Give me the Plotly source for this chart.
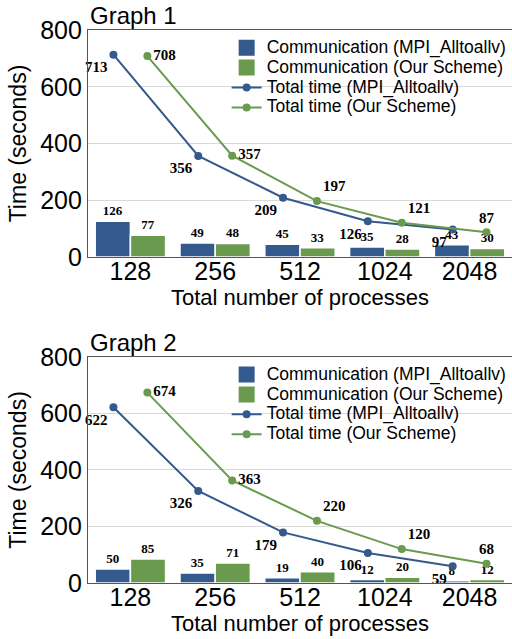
import plotly.graph_objects as go

processes = ["128", "256", "512", "1024", "2048"]

g1_comm_mpi = [126, 49, 45, 35, 43]
g1_comm_ours = [77, 48, 33, 28, 30]
g1_total_mpi = [713, 356, 209, 126, 97]
g1_total_ours = [708, 357, 197, 121, 87]

g2_comm_mpi = [50, 35, 19, 12, 8]
g2_comm_ours = [85, 71, 40, 20, 12]
g2_total_mpi = [622, 326, 179, 106, 59]
g2_total_ours = [674, 363, 220, 120, 68]

names = ["Communication (MPI_Alltoallv)", "Communication (Our Scheme)",
         "Total time (MPI_Alltoallv)", "Total time (Our Scheme)"]

BLUE = "#34598C"
GREEN = "#6A9A4E"
SANS = "Liberation Sans, Arial, Helvetica, sans-serif"
SERIF = "Liberation Serif, Times New Roman, serif"

blue_pos = ["bottom left"] * 5
green_pos = ["middle right", "middle right", "top right", "top right", "top center"]


def legname(s):
    return '<span style="font-size:17.5px">' + s + '</span>'


fig = go.Figure()


def add_graph(idx, cm, co, tm, to):
    xa = "x" if idx == 1 else "x2"
    ya = "y" if idx == 1 else "y2"
    lg = "legend" if idx == 1 else "legend2"
    # legend-only square swatches for the bar series
    for nm, col in ((names[0], BLUE), (names[1], GREEN)):
        fig.add_trace(go.Scatter(x=[None], y=[None], mode="markers", name=legname(nm),
                                 marker=dict(symbol="square", size=16, color=col),
                                 alignmentgroup="leg", xaxis=xa, yaxis=ya, legend=lg))
    fig.add_trace(go.Bar(x=processes, y=cm, name=names[0], showlegend=False,
                         marker=dict(color=BLUE, line=dict(color="white", width=1.5)),
                         text=cm, textposition="outside", cliponaxis=False,
                         textfont=dict(family=SERIF, size=13, color="black", weight="bold"),
                         alignmentgroup="main", offsetgroup="a", xaxis=xa, yaxis=ya))
    fig.add_trace(go.Bar(x=processes, y=co, name=names[1], showlegend=False,
                         marker=dict(color=GREEN, line=dict(color="white", width=1.5)),
                         text=co, textposition="outside", cliponaxis=False,
                         textfont=dict(family=SERIF, size=13, color="black", weight="bold"),
                         alignmentgroup="main", offsetgroup="b", xaxis=xa, yaxis=ya))
    fig.add_trace(go.Scatter(x=processes, y=tm, name=legname(names[2]), mode="lines+markers+text",
                             line=dict(color=BLUE, width=2), marker=dict(color=BLUE, size=8),
                             text=tm, textposition=blue_pos, cliponaxis=False,
                             textfont=dict(family=SERIF, size=15, color="black", weight="bold"),
                             alignmentgroup="main", offsetgroup="a", xaxis=xa, yaxis=ya, legend=lg))
    fig.add_trace(go.Scatter(x=processes, y=to, name=legname(names[3]), mode="lines+markers+text",
                             line=dict(color=GREEN, width=2), marker=dict(color=GREEN, size=8),
                             text=to, textposition=green_pos, cliponaxis=False,
                             textfont=dict(family=SERIF, size=15, color="black", weight="bold"),
                             alignmentgroup="main", offsetgroup="b", xaxis=xa, yaxis=ya, legend=lg))


add_graph(1, g1_comm_mpi, g1_comm_ours, g1_total_mpi, g1_total_ours)
add_graph(2, g2_comm_mpi, g2_comm_ours, g2_total_mpi, g2_total_ours)

xcommon = dict(type="category", categoryorder="array", categoryarray=processes,
               showline=True, linecolor="#555", linewidth=1.2, mirror=True,
               ticks="", tickfont=dict(family=SANS, size=25, color="black"), automargin=False,
               ticklabelstandoff=-8,
               title=dict(text="Total number of processes", font=dict(family=SANS, size=22, color="black"), standoff=5),
               showgrid=False, domain=[0, 1])
ycommon = dict(range=[0, 800], tickvals=[0, 200, 400, 600, 800], showline=True, linecolor="#555", linewidth=1.2,
               showgrid=True, gridcolor="#d9d9d9", gridwidth=1, zeroline=False, automargin=False,
               tickfont=dict(family=SANS, size=25, color="black"),
               title=dict(text="Time (seconds)", font=dict(family=SANS, size=23, color="black"), standoff=7))

legcommon = dict(bgcolor="rgba(0,0,0,0)", font=dict(family=SANS, size=13, color="black"),
                 x=0.327, xanchor="left", yanchor="top", tracegroupgap=0, itemwidth=30)

fig.update_layout(
    width=512, height=639,
    margin=dict(l=88, r=0, t=30, b=56, autoexpand=False),
    paper_bgcolor="white", plot_bgcolor="white",
    barmode="group", bargap=0.17, bargroupgap=0.0,
    scattermode="group",
    xaxis=dict(**xcommon, anchor="y"),
    yaxis=dict(**ycommon, domain=[0.5895, 1.0], anchor="x"),
    xaxis2=dict(**xcommon, anchor="y2"),
    yaxis2=dict(**ycommon, domain=[0.0, 0.4087], anchor="x2"),
    legend=dict(**legcommon, y=0.995),
    legend2=dict(**legcommon, y=0.404),
    annotations=[
        dict(text="Graph 1", x=0, y=1.0, xref="paper", yref="paper", xanchor="left", yanchor="bottom",
             showarrow=False, font=dict(family=SANS, size=24, color="black"), yshift=-1),
        dict(text="Graph 2", x=0, y=0.4087, xref="paper", yref="paper", xanchor="left", yanchor="bottom",
             showarrow=False, font=dict(family=SANS, size=24, color="black"), yshift=-1),
    ],
)

# remove the default 8px page margin so the figure fills the window exactly
fig.write_html("out.html", config={"displayModeBar": False},
               post_script="document.body.style.margin='0';document.body.style.overflow='hidden';")
